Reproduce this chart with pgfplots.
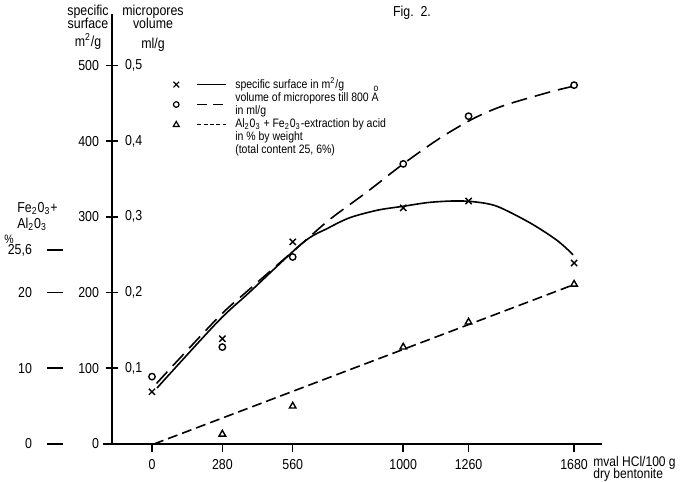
\documentclass[border=0pt]{standalone}
\usepackage{pgfplots}
\usepackage{pgfplotstable}
\pgfplotsset{compat=1.18}
\usepackage{fontspec}
\setmainfont[FakeStretch=0.86]{Liberation Sans}

\newcommand\ticksize{\fontsize{7.2}{8}\selectfont}
\newcommand\legsize{\fontsize{6.1}{6.2}\selectfont}

% legend picture: mark, then a short line; its box does not change row heights
\pgfplotsset{legimg/.style={legend image code/.code={
    \path[draw=none, fill=none] (-2pt,-0.5pt) rectangle (25pt,0.5pt);
    \begin{scope}[overlay, yshift=#1]
    \draw[##1, mark=none] (10.5pt,0pt) -- (25pt,0pt);
    \draw[##1] plot coordinates {(0pt,0pt)};
    \end{scope}}}}

% measured points (x = mval HCl/100 g dry bentonite)
\pgfplotstableread{
x y
0 69
280 139
560 267
1000 312
1260 321
1680 239
}\surface
\pgfplotstableread{
x v
0 0.089
280 0.128
560 0.247
1000 0.370
1260 0.433
1680 0.474
}\volume
\pgfplotstableread{
x p
280 1.3
560 5.0
1000 12.8
1260 16.1
1680 21.1
}\extract

% hand drawn curves
\pgfplotstableread{
x y
20 74
263 162
390 201
601 266
700 285
788 299
900 309
1000 314
1100 319
1200 321
1280 320
1373 314
1505 292
1612 269
1676 250
}\surfcurve
\pgfplotstableread{
x v
18 0.080
263 0.167
390 0.205
601 0.266
709 0.297
856 0.333
1000 0.370
1146 0.404
1280 0.430
1400 0.447
1584 0.465
1670 0.472
}\volcurve
\pgfplotstableread{
x p
8 0
1675 21.0
}\extline

\begin{document}
\begin{tikzpicture}
\useasboundingbox (0,0) rectangle (341pt,241pt);

% percent scale
\begin{axis}[at={(23.5pt,19pt)}, anchor=south west, scale only axis,
  width=5pt, height=215pt, xmin=0, xmax=1, ymin=0, ymax=56.8,
  axis x line=none, axis y line=left, axis line style={draw=none},
  ytick={0,10,20,25.6}, yticklabels={0,10,20,{25,6}},
  tick align=inside, major tick length=8pt,
  tick style={line width=0.8pt, black},
  yticklabel style={font=\ticksize, xshift=-4pt}]
\end{axis}

% m2/g and ml/g scales
\begin{axis}[at={(56pt,19pt)}, anchor=south west, scale only axis,
  width=5pt, height=215pt, xmin=0, xmax=1, ymin=0, ymax=568,
  axis x line=none, axis y line=left, axis line style={-, line width=1pt},
  ytick={0,100,200,300,400,500}, yticklabels={0,100,200,300,400,500},
  tick align=center, major tick length=6pt,
  tick style={line width=0.8pt, black},
  yticklabel style={font=\ticksize},
  extra y ticks={100,200,300,400,500},
  extra y tick labels={{0,1},{0,2},{0,3},{0,4},{0,5}},
  extra y tick style={major tick length=0pt,
    yticklabel style={anchor=west, xshift=3pt}}]
\end{axis}

\begin{axis}[at={(51.5pt,19pt)}, anchor=south west, scale only axis,
  width=249.5pt, height=215pt,
  xmin=-195, xmax=1791, ymin=0, ymax=568,
  axis x line=bottom, axis y line=none,
  axis line style={-, line width=1pt},
  xtick={0,280,560,1000,1260,1680},
  xticklabels={0,280,560,1000,1260,1680},
  xtick align=outside, major tick length=4pt,
  tick style={line width=0.8pt, black},
  xticklabel style={font=\ticksize},
  ytick=\empty, clip=false,
  legend style={draw=none, fill=none, font=\legsize, at={(0.138,0.853)},
    anchor=north west, inner sep=0pt, row sep=0.6pt,
    nodes={inner ysep=0pt, inner xsep=4.5pt},
    cells={anchor=west}},
  legend cell align=left]

\addlegendimage{black, solid, line width=0.6pt, mark=x, mark size=2pt, legimg=0pt}
\addlegendentry{specific surface in m\textsuperscript{2}/g}
\addlegendimage{black, line width=0.6pt, dash pattern=on 5pt off 3pt,
  mark=o, mark size=1.4pt, mark options={solid}, legimg=-2.9pt}
\addlegendentry{volume of micropores till 800 \rlap{\smash{\raisebox{1.5ex}{\hspace{0.15em}\tiny o}}}A}
\addlegendimage{empty legend}
\addlegendentry{in ml/g}
\addlegendimage{black, line width=0.6pt, dash pattern=on 2pt off 1.2pt,
  mark=triangle, mark size=1.7pt, mark options={solid}, legimg=0pt}
\addlegendentry{Al\textsubscript{2}0\textsubscript{3} + Fe\textsubscript{2}0\textsubscript{3}-extraction by acid}
\addlegendimage{empty legend}
\addlegendentry{in \% by weight}
\addlegendimage{empty legend}
\addlegendentry{(total content 25, 6\%)}

% curves
\addplot[forget plot, black, line width=0.8pt, smooth] table[x=x, y=y] {\surfcurve};
\addplot[forget plot, black, line width=0.8pt, smooth, dash pattern=on 8pt off 4pt]
  table[x=x, y expr=\thisrow{v}*1000] {\volcurve};
\addplot[forget plot, black, line width=0.8pt, dash pattern=on 5pt off 2.5pt]
  table[x=x, y expr=\thisrow{p}*10] {\extline};

% measured points
\addplot[forget plot, only marks, black, mark=x, mark size=2.2pt, mark options={line width=0.7pt}]
  table[x=x, y=y] {\surface};
\addplot[forget plot, only marks, black, mark=o, mark size=1.6pt, mark options={line width=0.7pt}]
  table[x=x, y expr=\thisrow{v}*1000] {\volume};
\addplot[forget plot, only marks, black, mark=triangle, mark size=1.9pt, mark options={line width=0.7pt}]
  table[x=x, y expr=\thisrow{p}*10] {\extract};
\end{axis}

% headings and labels
\node[anchor=north, align=center, font={\fontsize{7.2}{6.4}\selectfont\lineskiplimit=-6pt}, inner sep=0pt] at (44pt,238.5pt)
  {specific\\surface\\[2.4pt]m\textsuperscript{2}/g};
\node[anchor=north, align=center, font={\fontsize{7.2}{6.4}\selectfont\lineskiplimit=-6pt}, inner sep=0pt] at (76.5pt,238.5pt)
  {micropores\\volume\\[3.6pt]ml/g};
\node[font=\ticksize] at (206pt,234.5pt) {Fig.\ \ 2.};
\node[anchor=north west, align=left, font=\ticksize, inner sep=0pt] at (8.5pt,140pt)
  {Fe\textsubscript{2}0\textsubscript{3}+\\Al\textsubscript{2}0\textsubscript{3}};
\node[font=\legsize, inner sep=0pt] at (4.5pt,121.5pt) {\%};
\node[anchor=north west, align=left, font={\fontsize{7}{6}\selectfont\lineskiplimit=-6pt}, inner sep=0pt]
  at (296.5pt,12.8pt) {mval HCl/100 g\\dry bentonite};
\end{tikzpicture}
\end{document}
